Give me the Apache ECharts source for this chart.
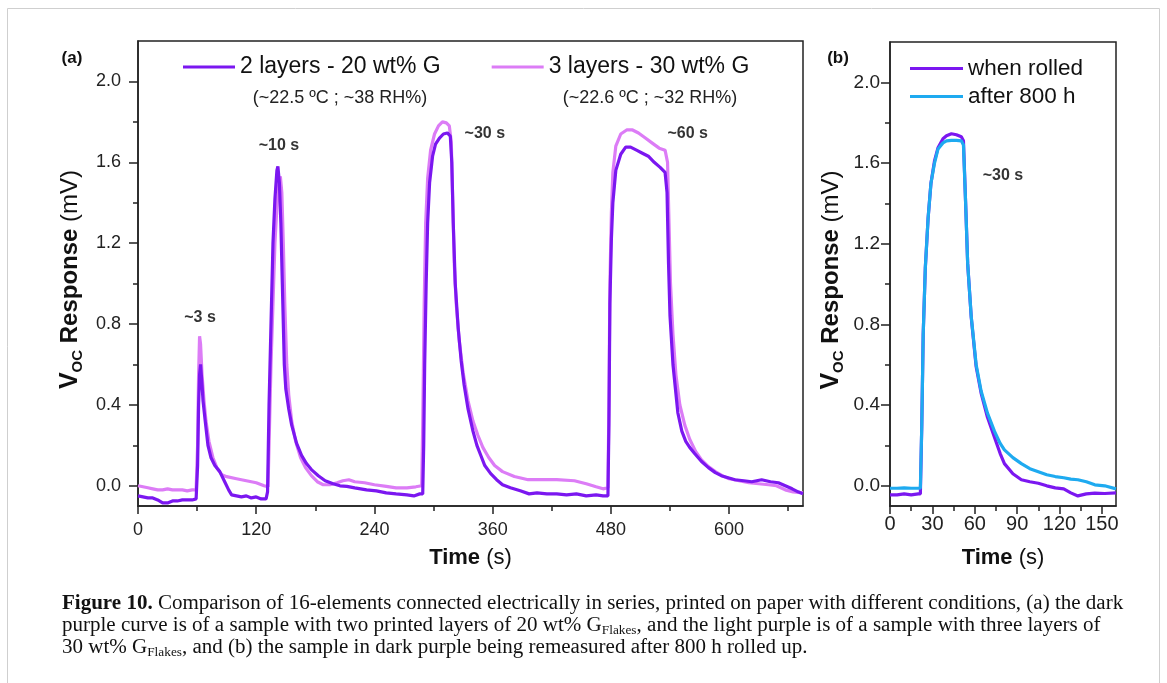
<!DOCTYPE html>
<html>
<head>
<meta charset="utf-8">
<script src="https://cdn.jsdelivr.net/npm/echarts@6/dist/echarts.min.js"></script>
<style>
html,body{margin:0;padding:0;background:#fff;}
#chart{width:1167px;height:683px;}
</style>
</head>
<body>
<div id="chart"></div>
<script>
// ---------- Panel (a): 2 layers - 20 wt% G (dark purple) ----------
const tDarkA = [0,5,10,15,20,25,30,35,40,45,50,55,59,60.5,61.5,62.5,63.5,65,66,68,71,74,78,83,88,92,95,100,105,110,115,120,125,130,131.5,133,135,137,139,141,142,143.5,145,146.5,148.5,150,153,156,161,166,171,176,183,190,198,205,212,220,232,242,252,262,273,280,286,289,290,291,292.5,294,296,299,302,306,310,314,317,318.5,320,322,325,328,331,335,340,344,348,352,358,364,370,378,388,397,405,415,425,435,445,455,465,472,477,478,479,480.5,482,485,490,495,500,506,512,518,524,530,535,537,538.5,540,543,548,552,556,560,565,572,579,586,592,599,606,615,623,633,642,650,657,664,670,675];
const vDarkA = [-0.05,-0.055,-0.06,-0.06,-0.07,-0.085,-0.085,-0.075,-0.075,-0.07,-0.07,-0.07,-0.065,0.1,0.4,0.55,0.6,0.5,0.42,0.33,0.2,0.14,0.1,0.07,0.02,-0.02,-0.045,-0.05,-0.055,-0.05,-0.06,-0.055,-0.065,-0.065,-0.03,0.4,0.8,1.2,1.42,1.56,1.58,1.5,1.3,1.0,0.6,0.48,0.38,0.3,0.21,0.15,0.11,0.08,0.05,0.025,0.01,0.0,-0.003,-0.01,-0.02,-0.025,-0.035,-0.04,-0.045,-0.05,-0.04,-0.04,0.2,0.6,1.0,1.3,1.5,1.63,1.69,1.72,1.74,1.745,1.73,1.6,1.3,1.0,0.78,0.62,0.5,0.38,0.27,0.2,0.15,0.1,0.06,0.03,0.005,-0.01,-0.025,-0.04,-0.035,-0.04,-0.04,-0.045,-0.04,-0.05,-0.045,-0.05,-0.05,0.3,0.9,1.22,1.4,1.56,1.64,1.675,1.675,1.66,1.645,1.63,1.6,1.575,1.55,1.45,1.1,0.84,0.6,0.36,0.27,0.22,0.19,0.16,0.12,0.09,0.065,0.05,0.04,0.03,0.025,0.02,0.03,0.02,0.015,0.0,-0.015,-0.03,-0.04];

// ---------- Panel (a): 3 layers - 30 wt% G (light purple) ----------
const tLightA = [0,5,10,15,20,25,30,35,40,45,50,55,59,60.5,61.5,62.5,63.5,65,67,69,72,76,80,85,90,100,110,120,128,132,133,135,137,139,141,143,144.5,146,147.5,149,151,153,156,160,165,170,176,182,188,195,202,208,214,220,230,240,252,262,273,282,288,289,290.5,292,294,297,301,305,309,313,316,318,319.5,321,323,326,330,335,340,345,350,356,362,370,382,396,410,425,443,455,465,472,477,478,479,480.5,482,485,490,496,502,508,515,522,529,535,537.5,539,540.5,543,546,550,555,560,566,572,579,586,593,600,610,620,630,640,648,657,665,675];
const vLightA = [0.0,-0.005,-0.01,-0.015,-0.02,-0.02,-0.015,-0.02,-0.02,-0.02,-0.025,-0.02,-0.02,0.2,0.55,0.74,0.7,0.55,0.42,0.32,0.22,0.14,0.09,0.055,0.045,0.035,0.025,0.015,0.0,-0.005,0.2,0.6,0.9,1.2,1.38,1.5,1.53,1.45,1.2,0.9,0.6,0.45,0.32,0.22,0.14,0.09,0.05,0.02,0.005,0.005,0.015,0.025,0.03,0.02,0.015,0.005,-0.003,-0.01,-0.01,-0.005,0.0,0.3,0.9,1.3,1.52,1.66,1.74,1.78,1.8,1.795,1.78,1.7,1.4,1.1,0.9,0.72,0.56,0.42,0.32,0.25,0.19,0.14,0.1,0.07,0.046,0.03,0.03,0.03,0.025,0.01,-0.005,-0.015,-0.01,0.4,1.0,1.35,1.55,1.68,1.74,1.76,1.76,1.745,1.72,1.695,1.67,1.66,1.6,1.3,1.0,0.75,0.55,0.4,0.3,0.23,0.17,0.128,0.095,0.07,0.05,0.035,0.025,0.015,0.01,0.005,0.0,-0.02,-0.03,-0.035];

// ---------- Panel (b): when rolled (dark purple) / after 800 h (blue) ----------
const tB = [0,5,10,15,20,21.5,22.5,23.5,25,27,29,31.5,34,37.5,40,43.5,47,50.5,52,53.5,55,57.5,61,64.5,69,74,78,81,87,93,99,105,111,117,123,128,133,139,145,152,160];
const vRolled = [-0.045,-0.045,-0.04,-0.045,-0.04,-0.04,0.3,0.75,1.08,1.33,1.5,1.61,1.676,1.72,1.735,1.745,1.74,1.73,1.71,1.41,1.1,0.836,0.59,0.46,0.34,0.24,0.16,0.11,0.06,0.03,0.02,0.013,0.0,-0.01,-0.015,-0.035,-0.05,-0.04,-0.036,-0.038,-0.035];
const vAfter = [-0.012,-0.012,-0.01,-0.012,-0.012,-0.012,0.3,0.75,1.08,1.33,1.5,1.6,1.67,1.7,1.71,1.712,1.712,1.71,1.69,1.41,1.1,0.84,0.6,0.47,0.36,0.27,0.21,0.178,0.14,0.11,0.085,0.07,0.055,0.046,0.04,0.033,0.03,0.02,0.005,0.0,-0.015];

// ---------- Names, ticks, annotations ----------
const seriesNamesA = ['2 layers - 20 wt% G', '3 layers - 30 wt% G'];
const conditionsA = ['(~22.5 ºC ; ~38 RH%)', '(~22.6 ºC ; ~32 RH%)'];
const seriesNamesB = ['when rolled', 'after 800 h'];
const yMajor = [0, 0.4, 0.8, 1.2, 1.6, 2.0];
const yMinor = [0.2, 0.6, 1.0, 1.4, 1.8];
const xMajorA = [0, 120, 240, 360, 480, 600];
const xMinorA = [60, 180, 300, 420, 540, 660];
const xMajorB = [0, 30, 60, 90, 120, 150];
const xMinorB = [15, 45, 75, 105, 135];
const annotA = [['~3 s', 63, 0.83], ['~10 s', 143, 1.684], ['~30 s', 352, 1.743], ['~60 s', 558, 1.743]];
const annotB = [['~30 s', 80, 1.54]];

const DARK = '#7b17f0', LIGHT = '#dc7cf6', BLUE = '#1eaaf0';
const FONT = '"Liberation Sans", Arial, sans-serif';
const SERIF = '"Liberation Serif", "DejaVu Serif", serif';
const pairs = (t, v) => t.map((x, i) => [x, v[i]]);

const chart = echarts.init(document.getElementById('chart'), null, {renderer: 'canvas'});

function majorX(grid, min, max, vals, fs, margin) {
  return {
    type: 'value', gridIndex: grid, min: min, max: max, position: 'bottom',
    name: '{b|Time} (s)', nameLocation: 'middle', nameGap: 41,
    nameTextStyle: {fontSize: 22, color: '#111', fontFamily: FONT, rich: {b: {fontSize: 22, fontWeight: 'bold', color: '#111', fontFamily: FONT}}},
    axisLine: {show: true, onZero: false, lineStyle: {color: '#222', width: 1.5}},
    axisTick: {show: true, inside: false, length: 8, customValues: vals, lineStyle: {color: '#222', width: 1.5}},
    axisLabel: {show: true, customValues: vals, fontSize: fs, color: '#222', fontFamily: FONT, margin: margin},
    splitLine: {show: false}
  };
}
function minorX(grid, min, max, vals) {
  return {
    type: 'value', gridIndex: grid, min: min, max: max, position: 'bottom',
    axisLine: {show: false, onZero: false},
    axisTick: {show: true, length: 5, customValues: vals, lineStyle: {color: '#222', width: 1.5}},
    axisLabel: {show: false}, splitLine: {show: false}
  };
}
function majorY(grid, fs, margin, gap) {
  return {
    type: 'value', gridIndex: grid, min: -0.1, max: 2.2, position: 'left',
    name: '{v|V}{s|OC}{b| Response }{n|(mV)}', nameLocation: 'middle', nameGap: gap, nameRotate: 90,
    nameTextStyle: {
      fontFamily: FONT, color: '#111', padding: [0, 12, 0, 0],
      rich: {
        v: {fontSize: 25, fontWeight: 'bold', color: '#111', fontFamily: FONT, lineHeight: 30},
        s: {fontSize: 15, fontWeight: 'bold', color: '#111', fontFamily: FONT, lineHeight: 12, verticalAlign: 'bottom'},
        b: {fontSize: 24, fontWeight: 'bold', color: '#111', fontFamily: FONT, lineHeight: 30},
        n: {fontSize: 24, color: '#111', fontFamily: FONT, lineHeight: 30}
      }
    },
    axisLine: {show: true, onZero: false, lineStyle: {color: '#222', width: 1.5}},
    axisTick: {show: true, inside: false, length: 9, customValues: yMajor, lineStyle: {color: '#222', width: 1.5}},
    axisLabel: {show: true, customValues: yMajor, fontSize: fs, color: '#222', fontFamily: FONT, margin: margin, formatter: v => v.toFixed(1)},
    splitLine: {show: false}
  };
}
function minorY(grid) {
  return {
    type: 'value', gridIndex: grid, min: -0.1, max: 2.2, position: 'left',
    axisLine: {show: false, onZero: false},
    axisTick: {show: true, length: 5, customValues: yMinor, lineStyle: {color: '#222', width: 1.5}},
    axisLabel: {show: false}, splitLine: {show: false}
  };
}
function lineSeries(name, data, color, xi, yi) {
  return {
    type: 'line', name: name, data: data, xAxisIndex: xi, yAxisIndex: yi,
    symbol: 'none', showSymbol: false, smooth: false, clip: true,
    lineStyle: {color: color, width: 3.2}, itemStyle: {color: color}, z: 3
  };
}
function annotSeries(list, xi, yi) {
  return {
    type: 'scatter', xAxisIndex: xi, yAxisIndex: yi, symbolSize: 0, silent: true, z: 5,
    data: list.map(a => ({name: a[0], value: [a[1], a[2]]})),
    label: {show: true, position: 'inside', formatter: p => p.name, fontSize: 16, fontWeight: 'bold', color: '#000', fontFamily: FONT}
  };
}

const captionRich = {
  b: {fontWeight: 'bold', fontSize: 20.5, fontFamily: SERIF, fill: '#111', lineHeight: 22},
  sub: {fontSize: 13, fontFamily: SERIF, fill: '#111', lineHeight: 11, verticalAlign: 'bottom'}
};
function captionLine(y, text) {
  return {
    type: 'text', x: 62, y: y, scaleX: 1.025, silent: true,
    style: {text: text, fontSize: 20.5, fontFamily: SERIF, fill: '#111', lineHeight: 22,
            verticalAlign: 'middle', align: 'left', rich: captionRich}
  };
}

const option = {
  animation: false,
  backgroundColor: '#fff',
  grid: [
    {left: 138, top: 41, width: 665, height: 465, show: true, borderColor: '#222', borderWidth: 1.5, backgroundColor: 'transparent'},
    {left: 890, top: 42, width: 226, height: 464, show: true, borderColor: '#222', borderWidth: 1.5, backgroundColor: 'transparent'}
  ],
  xAxis: [majorX(0, 0, 675, xMajorA, 18, 15), minorX(0, 0, 675, xMinorA), majorX(1, 0, 160, xMajorB, 20, 8), minorX(1, 0, 160, xMinorB)],
  yAxis: [majorY(0, 18, 17, 47), minorY(0), majorY(1, 19, 10, 44), minorY(1)],
  legend: [
    {
      data: seriesNamesA, orient: 'horizontal', left: 183, top: 55, padding: 0,
      icon: 'rect', itemWidth: 52, itemHeight: 3, itemGap: 51, selectedMode: false,
      textStyle: {fontSize: 23, color: '#111', fontFamily: FONT, lineHeight: 24}
    },
    {
      data: seriesNamesB, orient: 'vertical', left: 910, top: 57, padding: 0,
      icon: 'rect', itemWidth: 53, itemHeight: 3, itemGap: 5, selectedMode: false,
      textStyle: {fontSize: 22.5, color: '#111', fontFamily: FONT, lineHeight: 23}
    }
  ],
  series: [
    lineSeries(seriesNamesA[1], pairs(tLightA, vLightA), LIGHT, 0, 0),
    lineSeries(seriesNamesA[0], pairs(tDarkA, vDarkA), DARK, 0, 0),
    lineSeries(seriesNamesB[0], pairs(tB, vRolled), DARK, 2, 2),
    lineSeries(seriesNamesB[1], pairs(tB, vAfter), BLUE, 2, 2),
    annotSeries(annotA, 0, 0),
    annotSeries(annotB, 2, 2)
  ],
  graphic: [
    {type: 'rect', silent: true, z: -10, shape: {x: 7.5, y: 8.5, width: 1152, height: 700}, style: {fill: 'none', stroke: '#cfcfcf', lineWidth: 1}},
    {type: 'text', x: 72, y: 58, silent: true, style: {text: '(a)', fontSize: 17, fontWeight: 'bold', fontFamily: FONT, fill: '#111', align: 'center', verticalAlign: 'middle'}},
    {type: 'text', x: 838, y: 58, silent: true, style: {text: '(b)', fontSize: 17, fontWeight: 'bold', fontFamily: FONT, fill: '#111', align: 'center', verticalAlign: 'middle'}},
    {type: 'text', x: 340, y: 98, silent: true, style: {text: conditionsA[0], fontSize: 18, fontFamily: FONT, fill: '#222', align: 'center', verticalAlign: 'middle'}},
    {type: 'text', x: 650, y: 98, silent: true, style: {text: conditionsA[1], fontSize: 18, fontFamily: FONT, fill: '#222', align: 'center', verticalAlign: 'middle'}},
    captionLine(604, '{b|Figure 10.} Comparison of 16-elements connected electrically in series, printed on paper with different conditions, (a) the dark'),
    captionLine(626, 'purple curve is of a sample with two printed layers of 20 wt% G{sub|Flakes}, and the light purple is of a sample with three layers of'),
    captionLine(648, '30 wt% G{sub|Flakes}, and (b) the sample in dark purple being remeasured after 800 h rolled up.')
  ]
};
chart.setOption(option);
</script>
</body>
</html>
